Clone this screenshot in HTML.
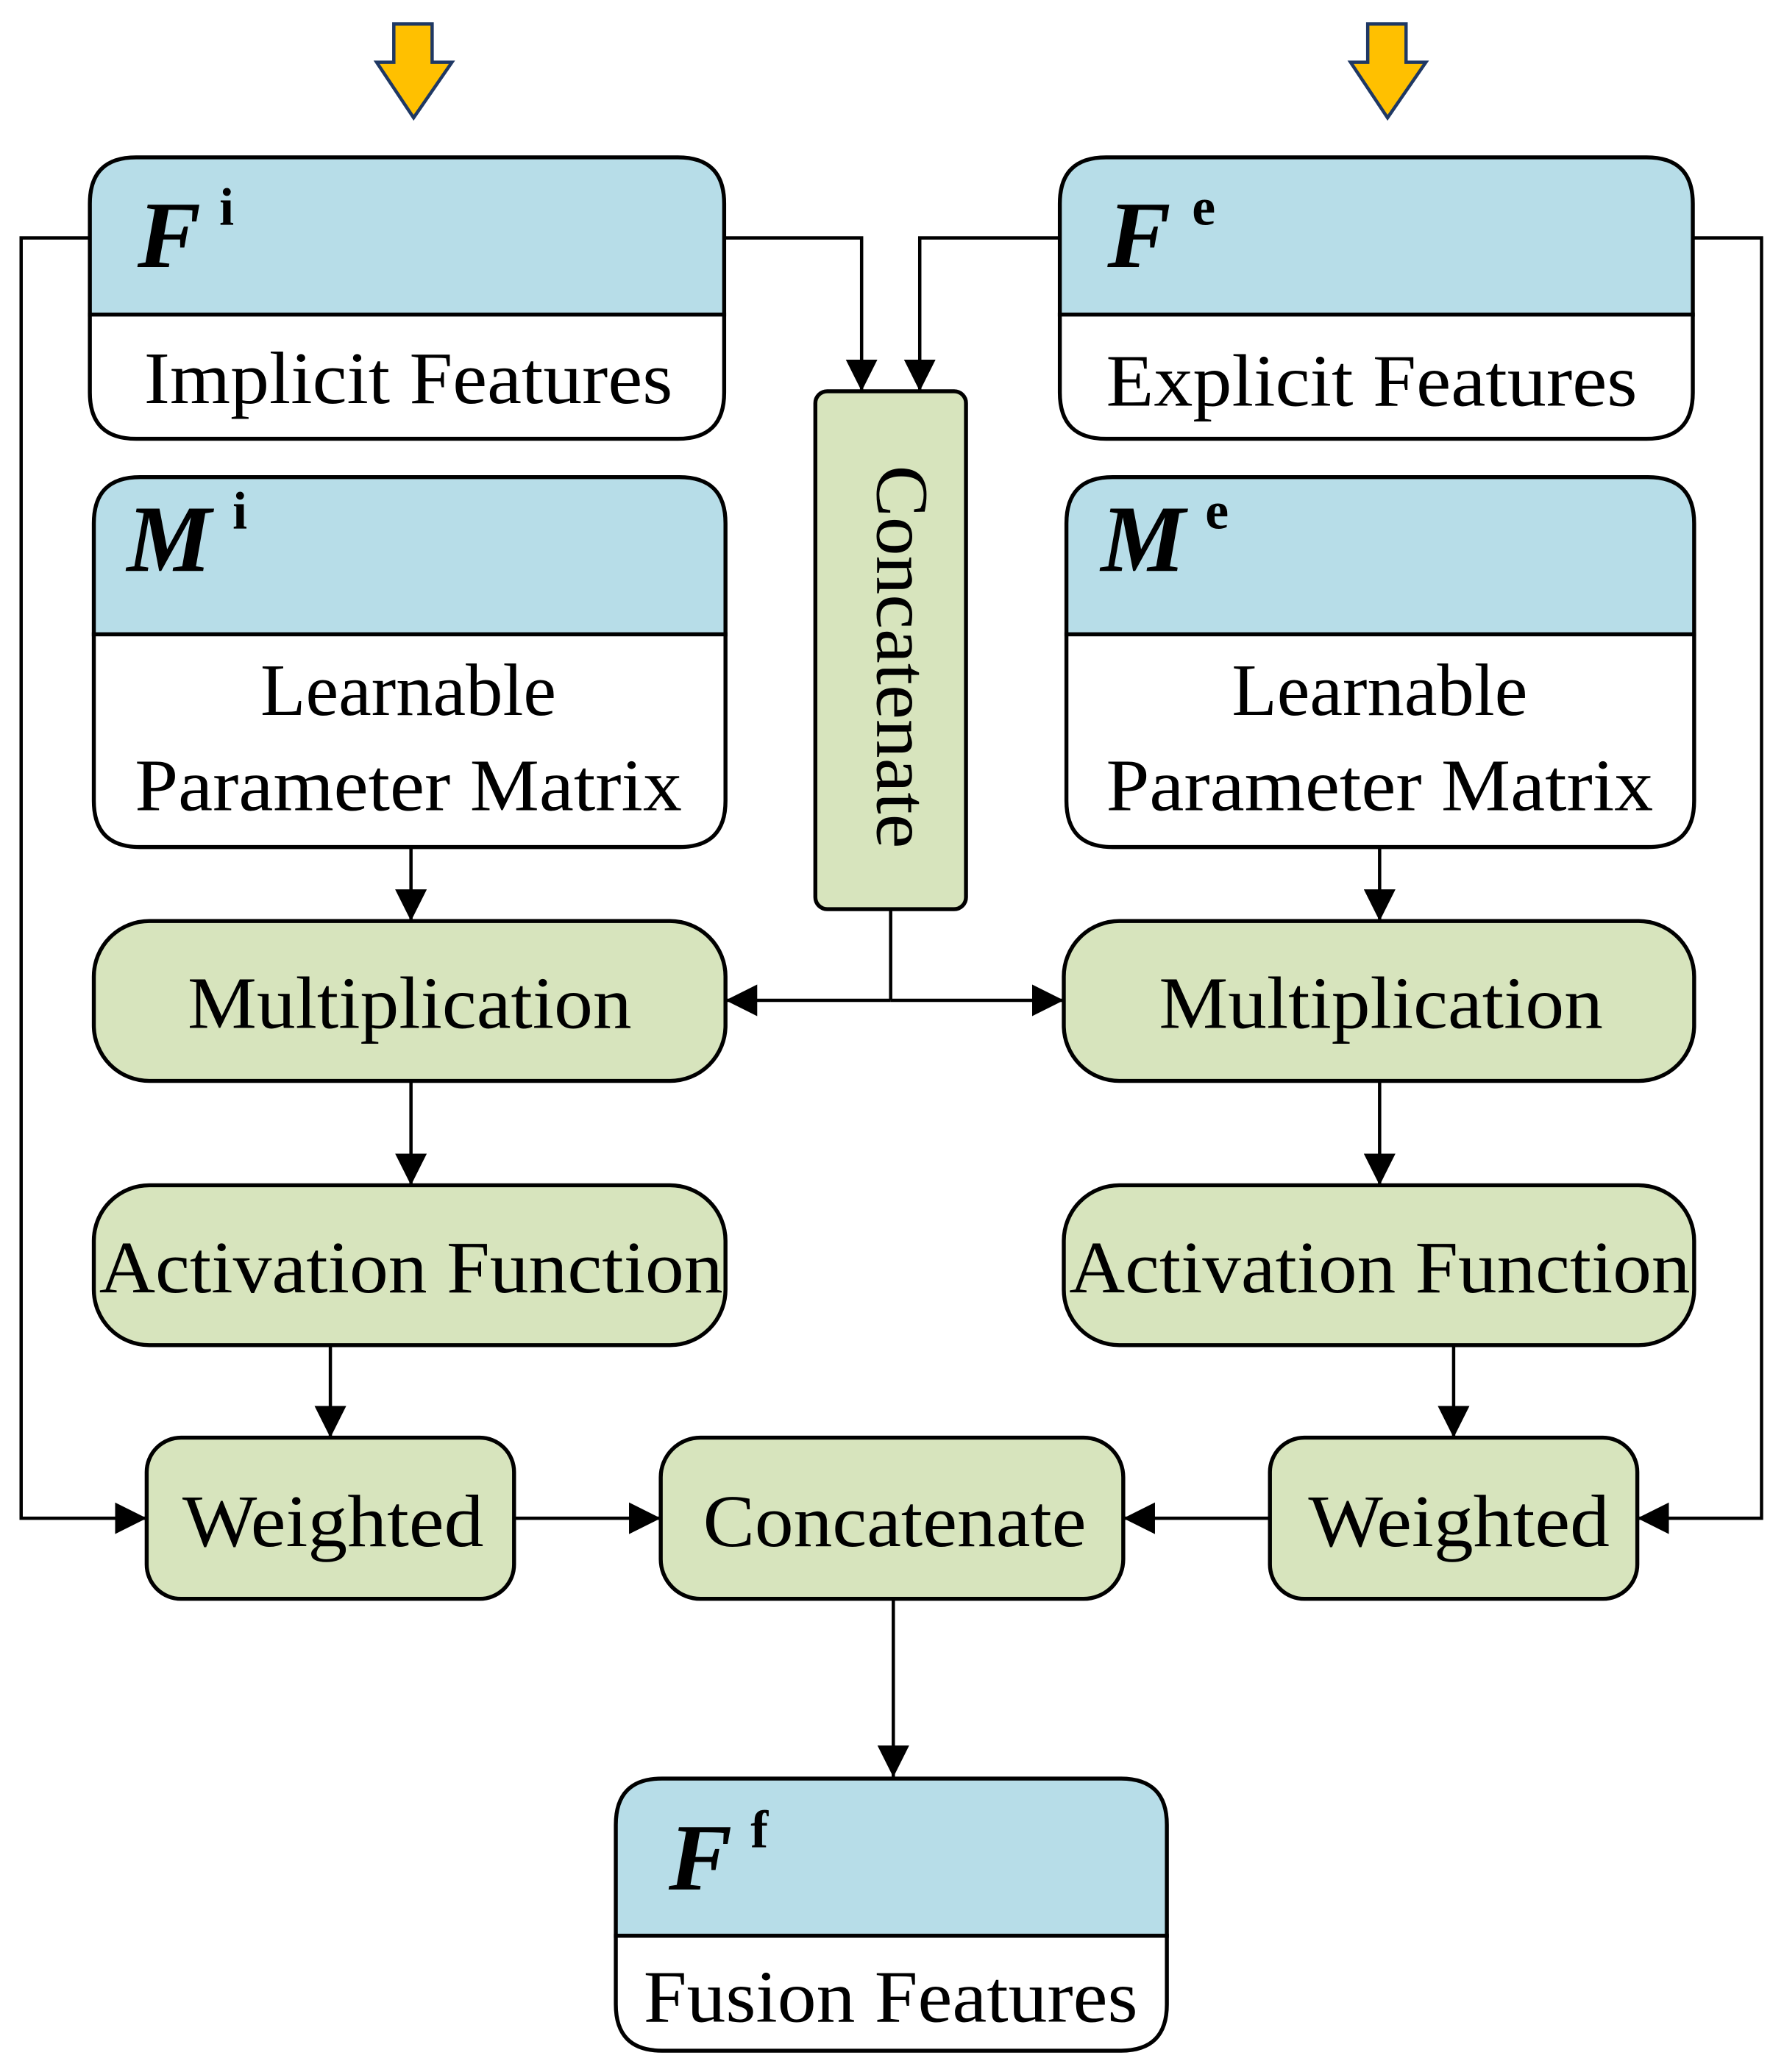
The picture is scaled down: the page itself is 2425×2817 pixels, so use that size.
<!DOCTYPE html>
<html><head><meta charset="utf-8"><style>html,body{margin:0;padding:0;background:#fff}svg{display:block}</style></head><body>
<svg width="2425" height="2817" viewBox="0 0 1350 1568" xmlns="http://www.w3.org/2000/svg">
<defs>
<marker id="a" viewBox="0 0 24 24" refX="24" refY="12" markerWidth="24" markerHeight="24" markerUnits="userSpaceOnUse" orient="auto">
<path d="M0,0 L24,12 L0,24 z" fill="#000"/></marker>
</defs>
<g font-family="'Liberation Serif', serif" fill="#000">
<path d="M298,18 H327 V47 H342 L313,89 L285,47 H298 Z" fill="#ffc000" stroke="#1f3864" stroke-width="2.5"/>
<path d="M1035,18 H1064 V47 H1079 L1050,89 L1022,47 H1035 Z" fill="#ffc000" stroke="#1f3864" stroke-width="2.5"/>

<g stroke="#000" stroke-width="2.5" fill="none">
<path d="M68,180 H16 V1149 H111" marker-end="url(#a)"/>
<path d="M548,180 H652 V296" marker-end="url(#a)"/>
<path d="M802,180 H696 V296" marker-end="url(#a)"/>
<path d="M1281,180 H1333 V1149 H1239" marker-end="url(#a)"/>
<path d="M674,688 V757"/>
<path d="M674,757 H549" marker-end="url(#a)"/>
<path d="M674,757 H805" marker-end="url(#a)"/>
<path d="M311,641 V697" marker-end="url(#a)"/>
<path d="M1044,641 V697" marker-end="url(#a)"/>
<path d="M311,818 V897" marker-end="url(#a)"/>
<path d="M1044,818 V897" marker-end="url(#a)"/>
<path d="M250,1018 V1088" marker-end="url(#a)"/>
<path d="M1100,1018 V1088" marker-end="url(#a)"/>
<path d="M389,1149 H500" marker-end="url(#a)"/>
<path d="M961,1149 H850" marker-end="url(#a)"/>
<path d="M676,1210 V1345" marker-end="url(#a)"/>
</g>

<g stroke="#000" stroke-width="3">
<path d="M68,238 V154 Q68,119 103,119 H513 Q548,119 548,154 V238 Z" fill="#b7dde8"/>
<path d="M68,238 H548 V297 Q548,332 513,332 H103 Q68,332 68,297 Z" fill="#fff"/>
<path d="M802,238 V154 Q802,119 837,119 H1246 Q1281,119 1281,154 V238 Z" fill="#b7dde8"/>
<path d="M802,238 H1281 V297 Q1281,332 1246,332 H837 Q802,332 802,297 Z" fill="#fff"/>
<path d="M71,480 V396 Q71,361 106,361 H514 Q549,361 549,396 V480 Z" fill="#b7dde8"/>
<path d="M71,480 H549 V606 Q549,641 514,641 H106 Q71,641 71,606 Z" fill="#fff"/>
<path d="M807,480 V396 Q807,361 842,361 H1247 Q1282,361 1282,396 V480 Z" fill="#b7dde8"/>
<path d="M807,480 H1282 V606 Q1282,641 1247,641 H842 Q807,641 807,606 Z" fill="#fff"/>
<path d="M466,1465 V1381 Q466,1346 501,1346 H848 Q883,1346 883,1381 V1465 Z" fill="#b7dde8"/>
<path d="M466,1465 H883 V1517 Q883,1552 848,1552 H501 Q466,1552 466,1517 Z" fill="#fff"/>
<rect x="617" y="296" width="114" height="392" rx="9" fill="#d7e4bd"/>
<rect x="71" y="697" width="478" height="121" rx="42" fill="#d7e4bd"/>
<rect x="805" y="697" width="477" height="121" rx="42" fill="#d7e4bd"/>
<rect x="71" y="897" width="478" height="121" rx="42" fill="#d7e4bd"/>
<rect x="805" y="897" width="477" height="121" rx="42" fill="#d7e4bd"/>
<rect x="111" y="1088" width="278" height="122" rx="26" fill="#d7e4bd"/>
<rect x="500" y="1088" width="350" height="122" rx="30" fill="#d7e4bd"/>
<rect x="961" y="1088" width="278" height="122" rx="26" fill="#d7e4bd"/>
</g>

<g font-weight="bold">
<text x="104" y="202" font-size="72" font-style="italic">F</text><text x="166" y="170" font-size="40">i</text>
<text x="838" y="202" font-size="72" font-style="italic">F</text><text x="902" y="170" font-size="40">e</text>
<text x="96" y="432" font-size="72" font-style="italic">M</text><text x="176" y="400" font-size="40">i</text>
<text x="833" y="432" font-size="72" font-style="italic">M</text><text x="912" y="400" font-size="40">e</text>
<text x="506" y="1430" font-size="72" font-style="italic">F</text><text x="568" y="1398" font-size="40">f</text>
</g>

<g font-size="56" text-anchor="middle">
<text x="309" y="305" textLength="400" lengthAdjust="spacingAndGlyphs">Implicit Features</text>
<text x="1038" y="307" textLength="402" lengthAdjust="spacingAndGlyphs">Explicit Features</text>
<text x="309" y="541">Learnable</text>
<text x="309" y="613" textLength="414" lengthAdjust="spacingAndGlyphs">Parameter Matrix</text>
<text x="1044" y="541">Learnable</text>
<text x="1044" y="613" textLength="414" lengthAdjust="spacingAndGlyphs">Parameter Matrix</text>
<text x="310" y="778" textLength="336" lengthAdjust="spacingAndGlyphs">Multiplication</text>
<text x="1045" y="778" textLength="336" lengthAdjust="spacingAndGlyphs">Multiplication</text>
<text x="311" y="978" textLength="472" lengthAdjust="spacingAndGlyphs">Activation Function</text>
<text x="1044" y="978" textLength="470" lengthAdjust="spacingAndGlyphs">Activation Function</text>
<text x="252" y="1170" textLength="228" lengthAdjust="spacingAndGlyphs">Weighted</text>
<text x="1104" y="1170" textLength="228" lengthAdjust="spacingAndGlyphs">Weighted</text>
<text x="677" y="1170" textLength="290" lengthAdjust="spacingAndGlyphs">Concatenate</text>
<text x="674" y="1530" textLength="374" lengthAdjust="spacingAndGlyphs">Fusion Features</text>
<text transform="translate(664,497) rotate(90)" textLength="290" lengthAdjust="spacingAndGlyphs">Concatenate</text>
</g>
</g>
</svg>
</body></html>
